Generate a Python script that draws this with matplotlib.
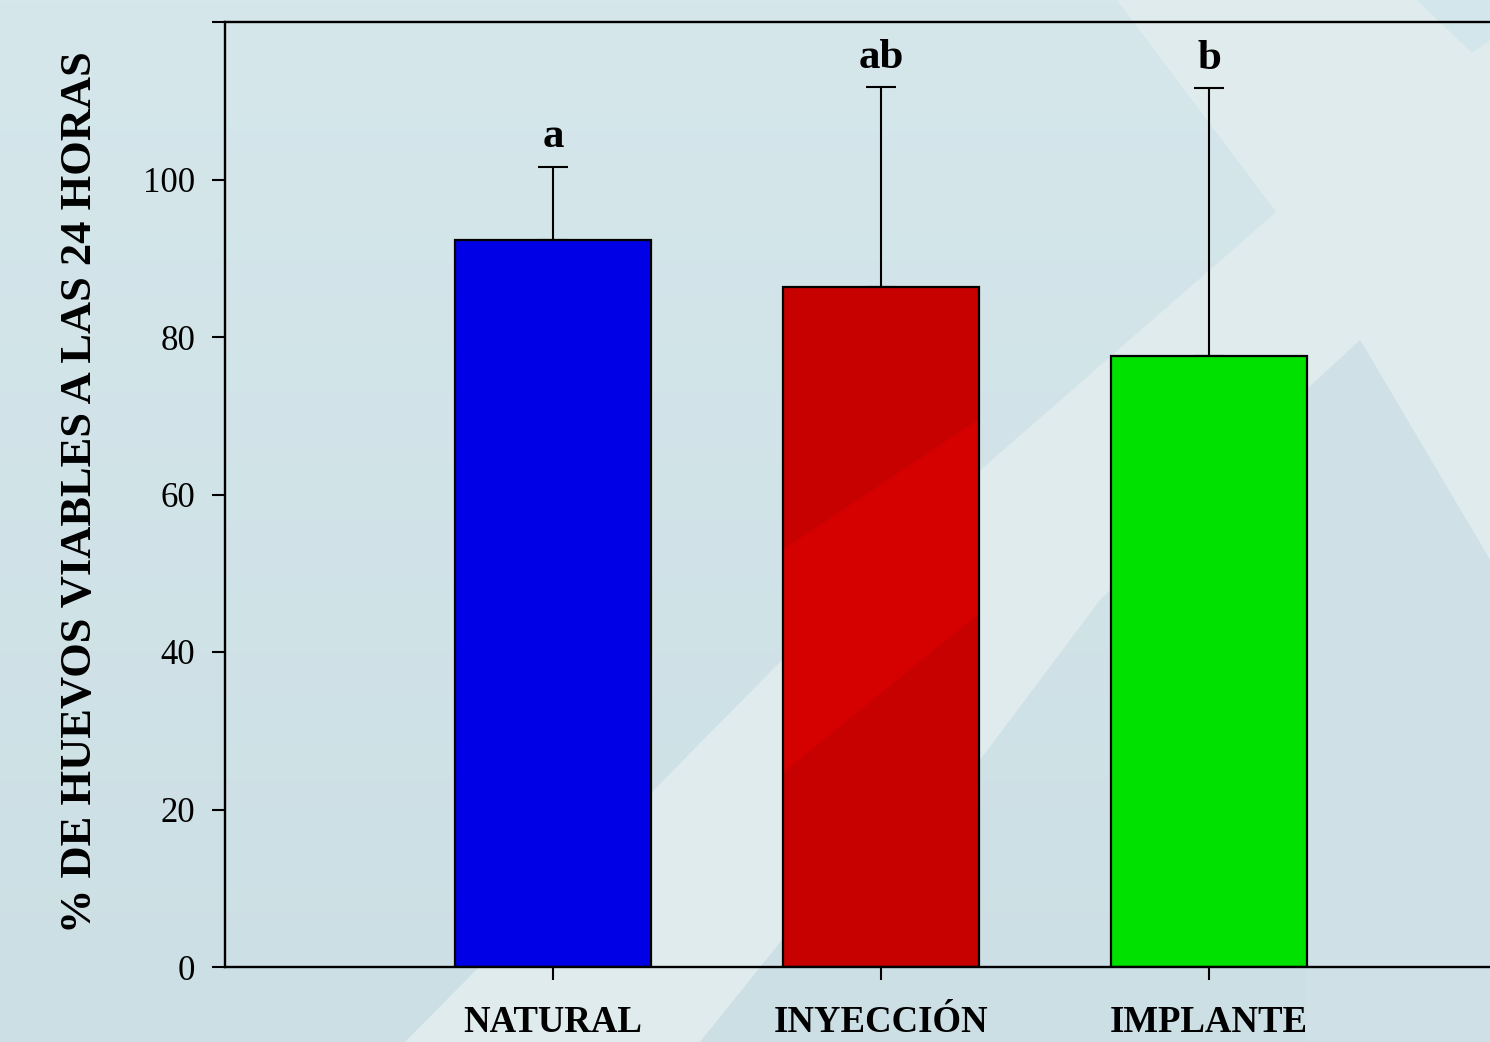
import matplotlib
matplotlib.use("Agg")
import matplotlib.pyplot as plt
import numpy as np
from matplotlib.patches import Polygon

# Data
categories = ["NATURAL", "INYECCIÓN", "IMPLANTE"]
means = [92.3, 86.4, 77.6]
errors = [9.3, 25.3, 34.0]
letters = ["a", "ab", "b"]
bar_colors = ["#0000e6", "#c70000", "#00e100"]
y_ticks = [0, 20, 40, 60, 80, 100, 120]
y_tick_labels = ["0", "20", "40", "60", "80", "100", ""]

W, H = 1490, 1042
fig = plt.figure(figsize=(W / 100, H / 100), dpi=100)

# Decorative background (pixel coordinates, y downward)
bg = fig.add_axes([0, 0, 1, 1], zorder=-10)
bg.set_xlim(0, W)
bg.set_ylim(H, 0)
bg.axis("off")
grad = np.linspace(0, 1, 256)[:, None]
top = np.array([213, 231, 235]) / 255
bot = np.array([204, 223, 228]) / 255
img = top[None, None, :] * (1 - grad[..., None]) + bot[None, None, :] * grad[..., None]
bg.imshow(img, extent=[0, W, H, 0], aspect="auto", zorder=0)
light_band = [(1117, 0), (1490, 0), (1490, 560), (1360, 340), (1310, 393),
              (1100, 600), (980, 760), (782, 940), (700, 1042), (405, 1042),
              (782, 660), (977, 473), (1276, 212)]
bg.add_patch(Polygon(light_band, closed=True, facecolor="#dfebec",
                     edgecolor="none", zorder=1))
bg.add_patch(Polygon([(1417, 0), (1490, 0), (1490, 40), (1472, 53)], closed=True,
                     facecolor="#d3e6eb", edgecolor="none", zorder=2))
bg.add_patch(Polygon([(1360, 340), (1490, 560), (1490, 1042), (1306, 1042), (1306, 390)],
                     closed=True, facecolor="#cfe1e6", edgecolor="none", zorder=1.5))

# Main axes
ax = fig.add_axes([225 / W, 75 / H, 1312 / W, 945 / H])
ax.set_facecolor("none")
x = np.arange(1, len(categories) + 1)

bars = ax.bar(x, means, width=0.6, color=bar_colors, edgecolor="none", zorder=2)

# lighter diagonal sheen across the red bar
sheen = Polygon([(700 / W, 1 - 605 / H), (1060 / W, 1 - 365 / H),
                 (1060 / W, 1 - 548 / H), (700 / W, 1 - 840 / H)],
                closed=True, transform=fig.transFigure, facecolor="#d50000",
                edgecolor="none", zorder=2.5)
ax.add_patch(sheen)
sheen.set_clip_path(bars[1])

ax.bar(x, means, width=0.6, fill=False, edgecolor="black", linewidth=1.6, zorder=3)

ax.errorbar(x, means, yerr=[np.zeros(len(x)), errors], fmt="none", ecolor="black",
            elinewidth=1.5, capsize=10.5, capthick=1.5, zorder=1)

for xi, m, e, lab in zip(x, means, errors, letters):
    ax.annotate(lab, xy=(xi, m + e), xytext=(0, 14), textcoords="offset points",
                ha="center", va="baseline", fontsize=31, fontweight="bold",
                family="Liberation Serif")

ax.set_xlim(0, 4)
ax.set_ylim(0, 120)
ax.set_yticks(y_ticks)
ax.set_yticklabels(y_tick_labels)
ax.set_xticks(x)
ax.set_xticklabels(categories)

for lbl in ax.get_yticklabels():
    lbl.set_family("Liberation Serif")
    lbl.set_fontsize(25)
for lbl in ax.get_xticklabels():
    lbl.set_family("Liberation Serif")
    lbl.set_fontsize(26.5)
    lbl.set_fontweight("bold")

ax.tick_params(axis="y", direction="out", length=9.4, width=1.5, pad=12)
ax.tick_params(axis="x", direction="out", length=9.4, width=1.5, pad=18)

for side in ["left", "bottom", "top"]:
    ax.spines[side].set_linewidth(1.7)
ax.spines["right"].set_visible(False)

fig.text(80 / W, 1 - 492 / H, "% DE HUEVOS VIABLES A LAS 24 HORAS", rotation=90,
         ha="center", va="center", fontsize=32, fontweight="bold",
         family="Liberation Serif")

fig.savefig("out.png", dpi=100)
